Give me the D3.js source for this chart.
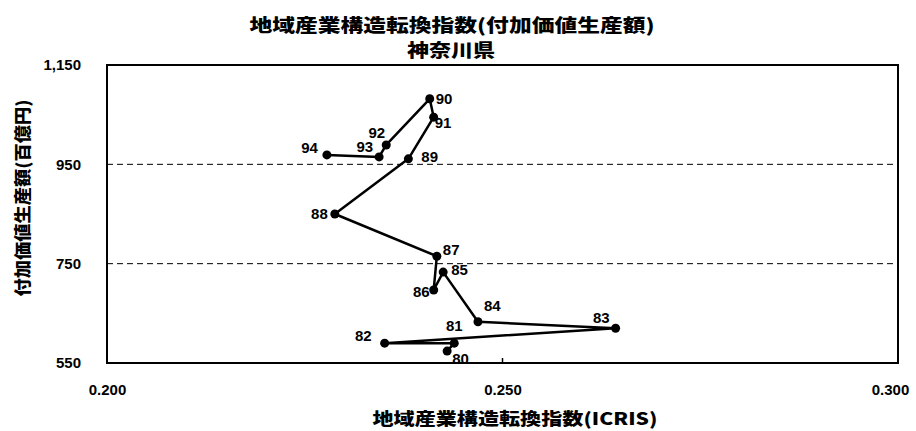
<!DOCTYPE html>
<html>
<head>
<meta charset="utf-8">
<script src="https://cdn.jsdelivr.net/npm/d3@7"></script>
<style>
  html, body { margin: 0; padding: 0; background: #fff; }
  svg { display: block; }
</style>
</head>
<body>
<div id="chart"></div>
<script>
// values, in the order the line visits them
const years = ['80', '81', '82', '83', '84', '85', '86', '87', '88', '89', '91', '90', '92', '93', '94'];
const icris = [0.2430, 0.2439, 0.2351, 0.2643, 0.2469, 0.2425, 0.2413, 0.2417, 0.2288, 0.2381, 0.2413, 0.2408, 0.2353, 0.2344, 0.2278];
const output = [574, 590, 590, 620, 633, 733, 697, 765, 850, 961, 1045, 1082, 989, 965, 969];

const xTicks = [0.200, 0.250, 0.300];
const yTicks = [550, 750, 950, 1150];
const gridValues = [750, 950];

const titleLines = ['地域産業構造転換指数(付加価値生産額)', '神奈川県'];
const xTitle = '地域産業構造転換指数(ICRIS)';
const yTitle = '付加価値生産額(百億円)';

// label offsets (dx, dy, anchor) from each point, as placed in the original
const labelPos = {
  '80': [5, 13, 'start'], '81': [0, -12, 'middle'], '82': [-13, -2, 'end'],
  '83': [-6, -5, 'end'], '84': [6, -11, 'start'], '85': [8, 3, 'start'],
  '86': [-4, 7, 'end'], '87': [6, -1, 'start'], '88': [-7, 5, 'end'],
  '89': [13, 3, 'start'], '91': [1, 11, 'start'], '90': [6, 5, 'start'],
  '92': [-1, -7, 'end'], '93': [-6, -5, 'end'], '94': [-9, -2, 'end']
};

const W = 916, H = 431;
const M = { left: 107, right: 18, top: 65, bottom: 68 };
const CJK = '"Noto Sans CJK JP", "Noto Sans", sans-serif';
const NUM = '"Liberation Sans Narrow", "Liberation Sans", Arial, sans-serif';

const svg = d3.select('#chart').append('svg')
  .attr('width', W).attr('height', H);

const x = d3.scaleLinear().domain([0.2, 0.3]).range([M.left, W - M.right]);
const y = d3.scaleLinear().domain([550, 1150]).range([H - M.bottom, M.top]);

// titles
svg.append('text')
  .attr('x', 452).attr('y', 32)
  .attr('text-anchor', 'middle')
  .attr('font-family', CJK).attr('font-weight', 900).attr('font-size', 18)
  .attr('textLength', 405).attr('lengthAdjust', 'spacingAndGlyphs')
  .text(titleLines[0]);
svg.append('text')
  .attr('x', 451).attr('y', 57)
  .attr('text-anchor', 'middle')
  .attr('font-family', CJK).attr('font-weight', 900).attr('font-size', 18)
  .attr('textLength', 88).attr('lengthAdjust', 'spacingAndGlyphs')
  .text(titleLines[1]);

// gridlines
svg.append('g').selectAll('line').data(gridValues).join('line')
  .attr('x1', x(0.2)).attr('x2', x(0.3))
  .attr('y1', d => y(d)).attr('y2', d => y(d))
  .attr('stroke', '#000').attr('stroke-width', 1)
  .attr('stroke-dasharray', '6,4');

// axes: only labels, no domain line
const xAxis = svg.append('g')
  .attr('transform', `translate(0,${y(550)})`)
  .call(d3.axisBottom(x).tickValues(xTicks).tickFormat(d3.format('.3f')).tickSize(0).tickPadding(21));
const yAxis = svg.append('g')
  .attr('transform', `translate(${x(0.2)},0)`)
  .call(d3.axisLeft(y).tickValues(yTicks).tickFormat(d3.format(',')).tickSize(0).tickPadding(26));
[xAxis, yAxis].forEach(g => {
  g.select('.domain').remove();
  g.selectAll('text')
    .attr('font-family', NUM).attr('font-weight', 700).attr('font-size', 15)
    .attr('fill', '#000');
});
// the last x label sits a little inside the frame edge
xAxis.selectAll('.tick').filter(d => d === 0.3).select('text').attr('dx', -8);

// small inward tick at 0.250
svg.append('line')
  .attr('x1', x(0.25)).attr('x2', x(0.25))
  .attr('y1', y(550)).attr('y2', y(550) - 5)
  .attr('stroke', '#000').attr('stroke-width', 1.5);

// plot frame
svg.append('rect')
  .attr('x', x(0.2)).attr('y', y(1150))
  .attr('width', x(0.3) - x(0.2)).attr('height', y(550) - y(1150))
  .attr('fill', 'none').attr('stroke', '#000').attr('stroke-width', 2);

// axis titles
svg.append('text')
  .attr('x', 515).attr('y', 425)
  .attr('text-anchor', 'middle')
  .attr('font-family', CJK).attr('font-weight', 900).attr('font-size', 17)
  .attr('textLength', 285).attr('lengthAdjust', 'spacingAndGlyphs')
  .text(xTitle);
svg.append('text')
  .attr('transform', 'translate(29,198) rotate(-90)')
  .attr('text-anchor', 'middle')
  .attr('font-family', CJK).attr('font-weight', 900).attr('font-size', 17)
  .attr('textLength', 197).attr('lengthAdjust', 'spacingAndGlyphs')
  .text(yTitle);

// series
const pts = years.map((yr, i) => ({ yr, x: icris[i], y: output[i] }));

svg.append('path')
  .datum(pts)
  .attr('fill', 'none').attr('stroke', '#000').attr('stroke-width', 2.5)
  .attr('stroke-linejoin', 'round')
  .attr('d', d3.line().x(d => x(d.x)).y(d => y(d.y)));

svg.append('g').selectAll('circle').data(pts).join('circle')
  .attr('cx', d => x(d.x)).attr('cy', d => y(d.y))
  .attr('r', 4.5).attr('fill', '#000');

svg.append('g').selectAll('text').data(pts).join('text')
  .attr('x', d => x(d.x) + labelPos[d.yr][0])
  .attr('y', d => y(d.y) + labelPos[d.yr][1])
  .attr('text-anchor', d => labelPos[d.yr][2])
  .attr('font-family', '"Liberation Sans", Arial, sans-serif').attr('font-weight', 700).attr('font-size', 15)
  .attr('fill', '#000')
  .text(d => d.yr);
</script>
</body>
</html>
